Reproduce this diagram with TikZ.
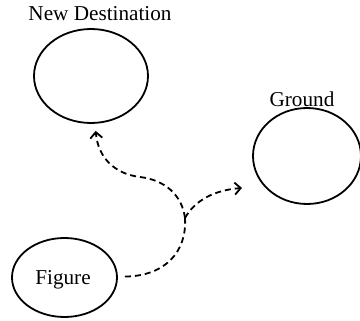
\documentclass[tikz,border=0pt]{standalone}
\usepackage{fontspec}
\setmainfont{Liberation Serif}
\usepackage{tikz}
\usetikzlibrary{shapes.geometric,arrows.meta}
\tikzset{
	place/.style 2 args={ellipse,draw,line width=0.9pt,minimum width=#1,minimum height=#2,inner sep=0pt,outer sep=4pt},
	flow/.style={-{Straight Barb[length=3pt,width=6pt]},line width=0.9pt,dash pattern=on 3pt off 2pt},
	tag/.style={inner sep=0pt}
}

\begin{document}
\begin{tikzpicture}[x=0.5pt,y=-0.5pt,font=\fontsize{10.6pt}{12pt}\selectfont]
	\useasboundingbox (0,0) rectangle (360,321);
	\node [place={57pt}{47pt}] (dest) at (91,76) {};
	\node [place={54pt}{48pt}] (ground) at (307,156) {};
	\node [place={52.5pt}{39.5pt}] (fig) at (64.5,277.5) {};

	\node [tag] (destlabel) at (100,14) {New Destination};
	\node [tag] (groundlabel) at (302,99) {Ground};
	\node [tag] (figlabel) at (63,280) {Figure};

	\coordinate (split) at (185,218);
	\coordinate (toground) at (242,188);

	\draw [flow,-] (fig) .. controls (165,276) and (187,252) .. (split);
	\draw [flow] (split) .. controls (182,195) and (165,180) .. (140,177)
		.. controls (115,174) and (98,158) .. (dest);
	\draw [flow] (split) .. controls (195,200) and (215,190) .. (toground);
\end{tikzpicture}
\end{document}
